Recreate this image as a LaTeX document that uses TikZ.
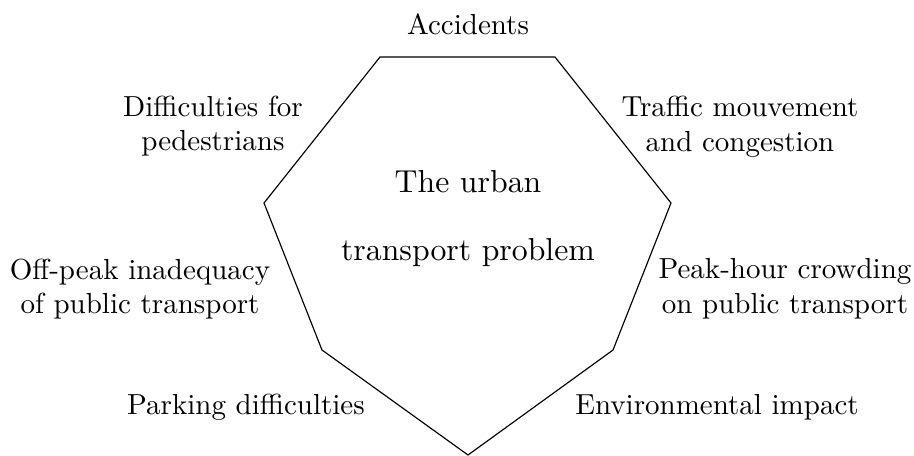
\documentclass[tikz,border=0pt]{standalone}
\usepackage{amsmath}
\usepackage{tikz}

\begin{document}
\begin{tikzpicture}[x=0.01212cm, y=-0.01212cm, issue/.style = {align=center}, centre/.style = {align=center, font=\fontsize{10.95pt}{13.6pt}\selectfont}]
    \useasboundingbox (0,0) rectangle (914,455);
    \coordinate (tl) at (380,57);
    \coordinate (tr) at (555,57);
    \coordinate (r) at (671,203);
    \coordinate (br) at (613,350);
    \coordinate (b) at (468,455);
    \coordinate (bl) at (322,350);
    \coordinate (l) at (264,203);
    \draw (tl) -- (tr) -- (r) -- (br) -- (b) -- (bl) -- (l) -- cycle;
    \node[centre] (c1) at (468,182) {The urban};
    \node[centre] (c2) at (468,253) {transport problem};
    \node[issue] (1) at (468,24) {Accidents};
    \node[issue] (2) at (740,127) {Traffic mouvement\\and congestion};
    \node[issue] (3) at (785,289) {Peak-hour crowding\\on public transport};
    \node[issue] (4) at (717,407) {Environmental impact};
    \node[issue] (5) at (246,407) {Parking difficulties};
    \node[issue] (6) at (140,289) {Off-peak inadequacy\\of public transport};
    \node[issue] (7) at (213,126) {Difficulties for\\pedestrians};
\end{tikzpicture}
\end{document}
